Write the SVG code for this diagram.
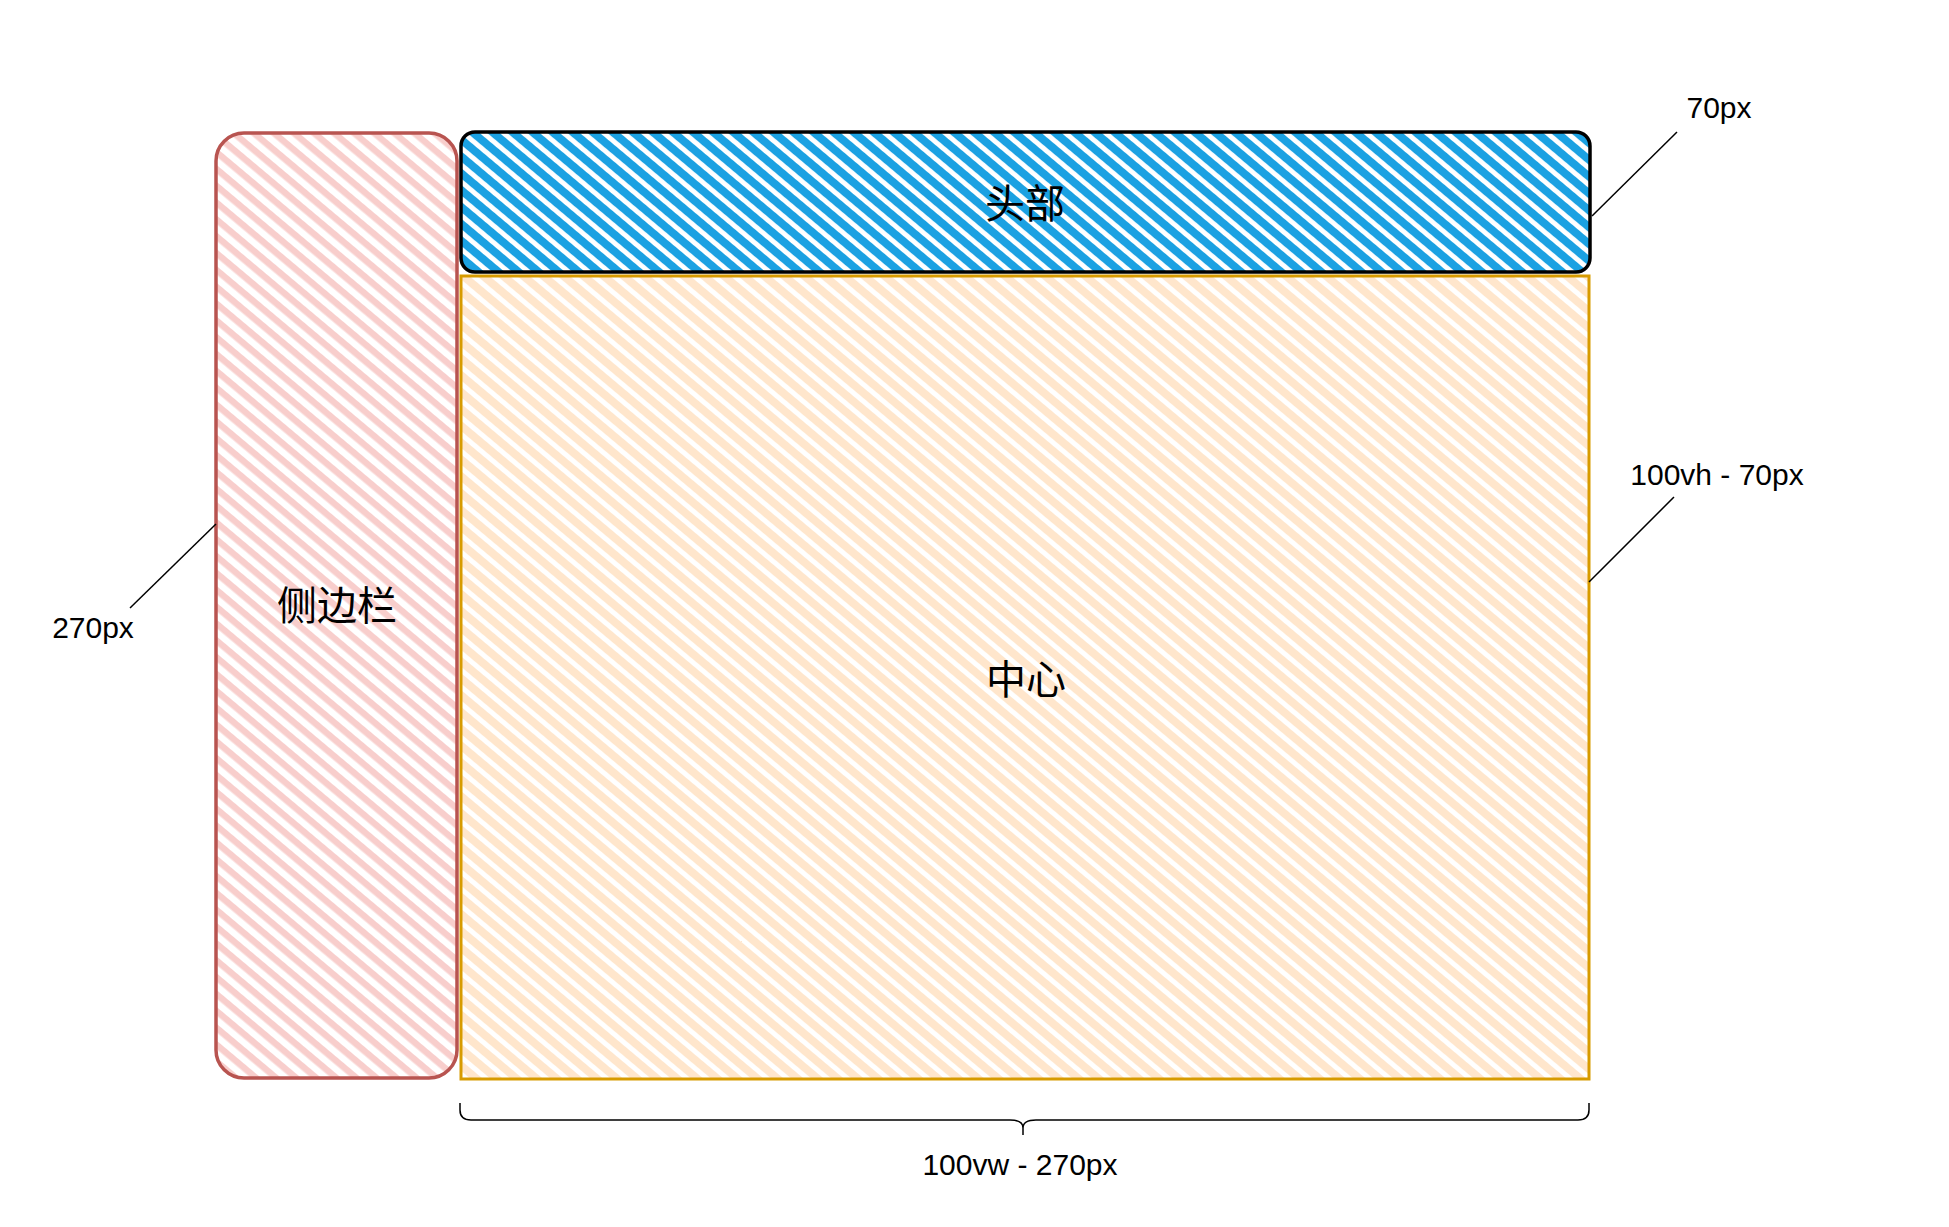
<svg xmlns="http://www.w3.org/2000/svg" width="1949" height="1227" viewBox="0 0 1949 1227">
<style>
.lbl{font-family:"Liberation Sans",Arial,sans-serif;font-size:30px;fill:#000;text-anchor:middle}
.cjk{font-family:"Liberation Sans","Noto Sans CJK SC",sans-serif;font-size:40px;fill:#000;text-anchor:middle}
.lead{stroke:#000;stroke-width:1.5;fill:none}
</style>
<defs>
<pattern id="hRed" patternUnits="userSpaceOnUse" width="20" height="12.9" patternTransform="rotate(40)">
<rect x="0" y="0" width="20" height="6.5" fill="#f8cecc"/>
</pattern>
<pattern id="hBlue" patternUnits="userSpaceOnUse" width="20" height="12.9" patternTransform="rotate(40)">
<rect x="0" y="0" width="20" height="8" fill="#1ba1e2"/>
</pattern>
<pattern id="hOrange" patternUnits="userSpaceOnUse" width="20" height="12.9" patternTransform="rotate(40)">
<rect x="0" y="0" width="20" height="8" fill="#ffe6cc"/>
</pattern>
</defs>
<rect width="1949" height="1227" fill="#fff"/>
<g id="sidebar">
<rect x="216" y="133" width="241" height="945" rx="28" fill="url(#hRed)" stroke="#b85450" stroke-width="3.5"/>
<text class="cjk" x="337" y="620">侧边栏</text>
</g>
<g id="center">
<rect x="461" y="276" width="1128" height="803" fill="url(#hOrange)" stroke="#d79b00" stroke-width="3"/>
<text class="cjk" x="1026" y="694">中心</text>
</g>
<g id="header">
<rect x="461" y="132" width="1129" height="140" rx="14" fill="url(#hBlue)" stroke="#000" stroke-width="3.5"/>
<text class="cjk" x="1025" y="218">头部</text>
</g>
<g id="connectors">
<line class="lead" x1="1677" y1="132" x2="1592" y2="216"/>
<line class="lead" x1="1674" y1="497" x2="1589" y2="582"/>
<line class="lead" x1="130" y1="608" x2="216" y2="524"/>
<path class="lead" d="M460,1103 L460,1110 Q460,1120 471,1120 L1010,1120 Q1023,1120 1023,1128 L1023,1135 M1023,1128 Q1023,1120 1036,1120 L1578,1120 Q1589,1120 1589,1110 L1589,1103"/>
</g>
<g id="labels">
<text class="lbl" x="1719" y="118">70px</text>
<text class="lbl" x="1717" y="485">100vh - 70px</text>
<text class="lbl" x="93" y="638">270px</text>
<text class="lbl" x="1020" y="1175">100vw - 270px</text>
</g>
</svg>
